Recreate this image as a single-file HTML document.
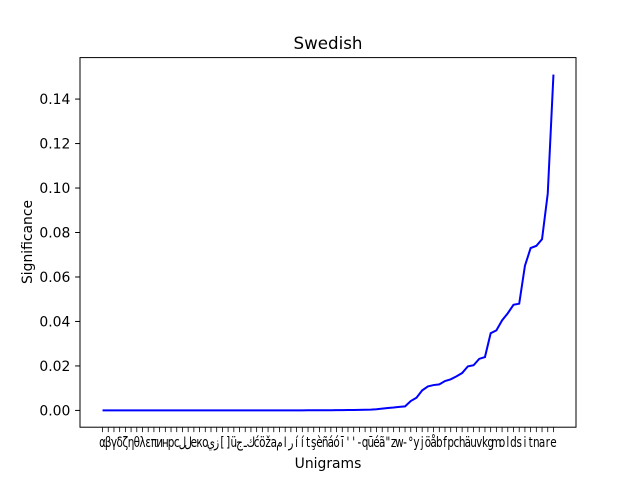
<!DOCTYPE html>
<html><head><meta charset="utf-8"><style>
body{margin:0;background:#fff}
text{font-family:"DejaVu Sans","Liberation Sans","Noto Sans CJK SC",sans-serif;fill:#000}
</style></head><body>
<svg id="chart" width="640" height="480" viewBox="0 0 640 480" xmlns="http://www.w3.org/2000/svg">
<rect width="640" height="480" fill="#fff"/>
<text x="328" y="49" font-size="16.7" text-anchor="middle">Swedish</text>
<g id="yt"></g><g id="xt"></g>
<path id="line" fill="none" stroke="#0000ff" stroke-width="2"/>
<rect x="80" y="57.6" width="496" height="369.6" fill="none" stroke="#000" stroke-width="1"/>
<text x="328" y="468" font-size="13.9" text-anchor="middle">Unigrams</text>
<text x="0" y="0" font-size="13.9" text-anchor="middle" transform="translate(32,242) rotate(-90)">Significance</text>
</svg>
<script>
const categories = ["α","β","γ","δ","ζ","η","θ","λ","ε","π","и","н","р","с","ل","ل","e","к","о","ي","ز","[","]","ü","ج","ـ","ك","ć","ö","ž","a","م","ا","ر","í","í","t","ş","è","ñ","á","ó","ī","'","'","-","q","ū","é","ã","\"","z","w","-","°","y","j","ö","å","b","f","p","c","h","ä","u","v","k","g","m","o","l","d","s","i","t","n","a","r","e"];
const values = [0,0,0,0,0,0,0,0,0,0,0,0,0,0,0,0,0,0,0,0,0,0,0,0,0,0,0,0,0,0,0.00002,0.00002,0.00003,0.00003,0.00004,0.00004,0.00005,0.00006,0.00007,0.00008,0.0001,0.00012,0.00014,0.00016,0.0002,0.00025,0.0003,0.00035,0.0005,0.0008,0.0011,0.0013,0.0016,0.0018,0.0042,0.0057,0.009,0.0108,0.0114,0.0117,0.0132,0.014,0.0153,0.0168,0.0198,0.0203,0.0232,0.024,0.0347,0.036,0.0405,0.0437,0.0475,0.048,0.065,0.073,0.074,0.077,0.0975,0.151];
const yTicks = [0,0.02,0.04,0.06,0.08,0.10,0.12,0.14];
const yTickLabels = ["0.00","0.02","0.04","0.06","0.08","0.10","0.12","0.14"];
const NS="http://www.w3.org/2000/svg";
const L=80,R=576,T=57.6,B=427.2;
const n=categories.length;
const xs=i=>{const span=(R-L)/1.1;return L+span*0.05+i*span/(n-1);};
const ymin=-0.00755,ymax=0.15865;
const ys=v=>B-(v-ymin)/(ymax-ymin)*(B-T);
const yt=document.getElementById('yt'),xt=document.getElementById('xt');
yTicks.forEach((v,i)=>{
  const y=ys(v);
  const l=document.createElementNS(NS,'line');
  l.setAttribute('x1',L-4.9);l.setAttribute('x2',L);l.setAttribute('y1',y);l.setAttribute('y2',y);
  l.setAttribute('stroke','#000');l.setAttribute('stroke-width','1');
  
  
  yt.appendChild(l);
  const t=document.createElementNS(NS,'text');
  t.setAttribute('x',L-9.7);t.setAttribute('y',y+5);t.setAttribute('font-size','13.9');t.setAttribute('text-anchor','end');
  t.textContent=yTickLabels[i];
  
  
  yt.appendChild(t);
});
categories.forEach((c,i)=>{
  const x=xs(i);
  const l=document.createElementNS(NS,'line');
  l.setAttribute('x1',x);l.setAttribute('x2',x);l.setAttribute('y1',B);l.setAttribute('y2',B+4.9);
  l.setAttribute('stroke','#000');l.setAttribute('stroke-width','0.8');
  
  
  xt.appendChild(l);
  const t=document.createElementNS(NS,'text');
  t.setAttribute('x',x);t.setAttribute('y',B+20);t.setAttribute('font-size','13.9');t.setAttribute('text-anchor','middle');
  t.setAttribute('transform','translate('+x+',0) scale(0.75,1) translate('+(-x)+',0)');
  t.textContent=c;
  
  
  xt.appendChild(t);
});
document.getElementById('line').setAttribute('d',values.map((v,i)=>(i?'L':'M')+xs(i).toFixed(2)+','+ys(v).toFixed(2)).join(''));
</script>
</body></html>
